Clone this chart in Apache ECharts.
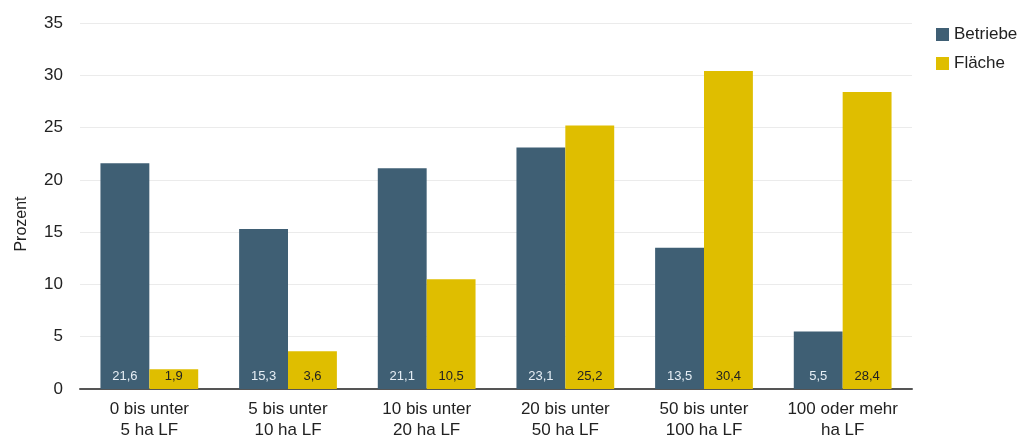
<!DOCTYPE html>
<html><head><meta charset="utf-8">
<script src="https://cdn.jsdelivr.net/npm/echarts@6/dist/echarts.min.js"></script>
<style>html,body{margin:0;padding:0;background:#fff}#c{width:1024px;height:441px}</style>
</head><body><div id="c"></div>
<script>
const categories = ['0 bis unter\n5 ha LF','5 bis unter\n10 ha LF','10 bis unter\n20 ha LF','20 bis unter\n50 ha LF','50 bis unter\n100 ha LF','100 oder mehr\nha LF'];
const betriebe = [21.6, 15.3, 21.1, 23.1, 13.5, 5.5];
const flaeche = [1.9, 3.6, 10.5, 25.2, 30.4, 28.4];
const seriesNames = ['Betriebe', 'Fläche'];
const fmt = p => String(p.value).replace('.', ',');
const chart = echarts.init(document.getElementById('c'));
chart.setOption({
  animation: false,
  textStyle: {fontFamily: 'Liberation Sans, Arial, sans-serif'},
  legend: {
    orient: 'vertical', left: 931, top: 21, itemWidth: 13, itemHeight: 13, itemGap: 12,
    icon: 'rect',
    textStyle: {fontSize: 17, color: '#222'},
    data: seriesNames
  },
  grid: {left: 80, right: 112, top: 23, bottom: 51},
  xAxis: {
    type: 'category', data: categories,
    axisLine: {lineStyle: {color: '#555', width: 2}},
    axisTick: {show: false},
    axisLabel: {fontSize: 17, color: '#222', lineHeight: 21, margin: 10, interval: 0}
  },
  yAxis: {
    type: 'value', min: 0, max: 35, interval: 5,
    name: 'Prozent', nameLocation: 'middle', nameGap: 50, nameRotate: 90,
    nameTextStyle: {fontSize: 16, color: '#222', padding: [0, 36, 0, 0]},
    axisLabel: {fontSize: 17, color: '#222', margin: 17},
    splitLine: {lineStyle: {color: '#ebebeb'}},
    axisLine: {show: false}, axisTick: {show: false}
  },
  series: [
    {name: seriesNames[0], type: 'bar', data: betriebe, barGap: '0%', barCategoryGap: '29.5%',
     itemStyle: {color: '#3f5f74'},
     label: {show: true, position: 'insideBottom', distance: 6, color: '#e6eef5', fontSize: 13, formatter: fmt}},
    {name: seriesNames[1], type: 'bar', data: flaeche, barGap: '0%', barCategoryGap: '29.5%',
     itemStyle: {color: '#dfbe00'},
     label: {show: true, position: 'insideBottom', distance: 6, color: '#222', fontSize: 13, formatter: fmt}}
  ]
});
</script></body></html>
